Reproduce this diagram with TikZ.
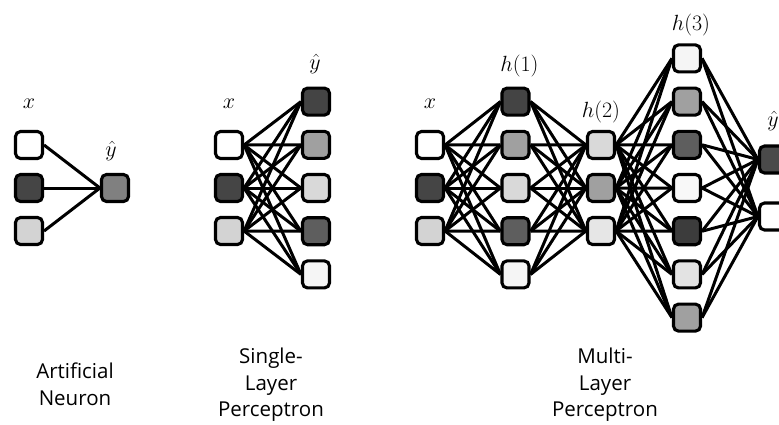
\RequirePackage{fix-cm}
\documentclass[tikz,border=0pt]{standalone}
\usepackage{fontspec}
\setmainfont{Open Sans}
\usetikzlibrary{backgrounds}
\definecolor{cW}{HTML}{FFFFFF}
\definecolor{cA}{HTML}{454545}
\definecolor{cL}{HTML}{D3D3D3}
\definecolor{cM}{HTML}{808080}
\definecolor{cD}{HTML}{444444}
\definecolor{cG}{HTML}{A0A0A0}
\definecolor{cS}{HTML}{D9D9D9}
\definecolor{cE}{HTML}{5E5E5E}
\definecolor{cF}{HTML}{F5F5F5}
\definecolor{cH}{HTML}{E6E6E6}
\definecolor{cP}{HTML}{F8F8F8}
\definecolor{cK}{HTML}{3C3C3C}
\definecolor{cJ}{HTML}{E3E3E3}
\definecolor{cO}{HTML}{4A4A4A}
\tikzset{
 neuron/.style={draw=black, line width=3.1pt, rounded corners=5pt, minimum width=27pt, minimum height=27pt, inner sep=0pt},
 conn/.style={line width=3pt, draw=black},
 lbl/.style={inner sep=0pt, font=\fontsize{22}{26}\selectfont},
 captiontext/.style={inner sep=0pt, align=center, anchor=north, font=\fontsize{20.5}{26.5}\selectfont}
}
\begin{document}
\begin{tikzpicture}[x=1pt,y=-1pt]
\useasboundingbox (0,0) rectangle (779,424);
% ---------- Artificial Neuron
\foreach \c [count=\i] in {cW,cA,cL}
  \node[neuron, fill=\c] (an-i\i) at (29,{145+43*(\i-1)}) {};
\node[neuron, fill=cM] (an-o) at (115,188) {};
\begin{scope}[on background layer]
\foreach \i in {1,2,3} \draw[conn] (an-i\i.east) -- (an-o.west);
\end{scope}
\node[lbl] (an-x) at (29,104) {$x$};
\node[lbl] (an-y) at (111,150.5) {$\hat y$};
% ---------- Single-Layer Perceptron
\foreach \c [count=\i] in {cW,cA,cL}
  \node[neuron, fill=\c] (sl-i\i) at (229,{145+43*(\i-1)}) {};
\foreach \c [count=\i] in {cD,cG,cS,cE,cF}
  \node[neuron, fill=\c] (sl-o\i) at (316,{101.6+43.2*(\i-1)}) {};
\begin{scope}[on background layer]
\foreach \i in {1,2,3} \foreach \j in {1,...,5} \draw[conn] (sl-i\i.east) -- (sl-o\j.west);
\end{scope}
\node[lbl] (sl-x) at (229,104) {$x$};
\node[lbl] (sl-y) at (315,64) {$\hat y$};
% ---------- Multi-Layer Perceptron
\foreach \c [count=\i] in {cW,cA,cL}
  \node[neuron, fill=\c] (ml-i\i) at (430,{145+43*(\i-1)}) {};
\foreach \c [count=\i] in {cD,cG,cS,cE,cF}
  \node[neuron, fill=\c] (ml-a\i) at (515.5,{101.6+43.2*(\i-1)}) {};
\foreach \c [count=\i] in {cS,cG,cH}
  \node[neuron, fill=\c] (ml-b\i) at (601,{145+43*(\i-1)}) {};
\foreach \c [count=\i] in {cF,cG,cE,cP,cK,cJ,cG}
  \node[neuron, fill=\c] (ml-c\i) at (687,{58.4+43.2*(\i-1)}) {};
\foreach \c [count=\i] in {cO,cW}
  \node[neuron, fill=\c] (ml-o\i) at (773,{159.5+57*(\i-1)}) {};
\begin{scope}[on background layer]
\foreach \i in {1,2,3} \foreach \j in {1,...,5} \draw[conn] (ml-i\i.east) -- (ml-a\j.west);
\foreach \i in {1,...,5} \foreach \j in {1,2,3} \draw[conn] (ml-a\i.east) -- (ml-b\j.west);
\foreach \i in {1,2,3} \foreach \j in {1,...,7} \draw[conn] (ml-b\i.east) -- (ml-c\j.west);
\foreach \i in {1,...,7} \foreach \j in {1,2} \draw[conn] (ml-c\i.east) -- (ml-o\j.west);
\end{scope}
\node[lbl] (ml-x) at (430,104) {$x$};
\node[lbl] (ml-h1) at (519.5,66) {$h(1)$};
\node[lbl] (ml-h2) at (601,111.5) {$h(2)$};
\node[lbl] (ml-h3) at (691,25) {$h(3)$};
\node[lbl] (ml-y) at (773,121) {$\hat y$};
% ---------- captions
\node[captiontext] (cap-an) at (75,363) {Artificial\\Neuron};
\node[captiontext] (cap-sl) at (271,348) {Single-\\Layer\\Perceptron};
\node[captiontext] (cap-ml) at (605,348) {Multi-\\Layer\\Perceptron};
\end{tikzpicture}
\end{document}
